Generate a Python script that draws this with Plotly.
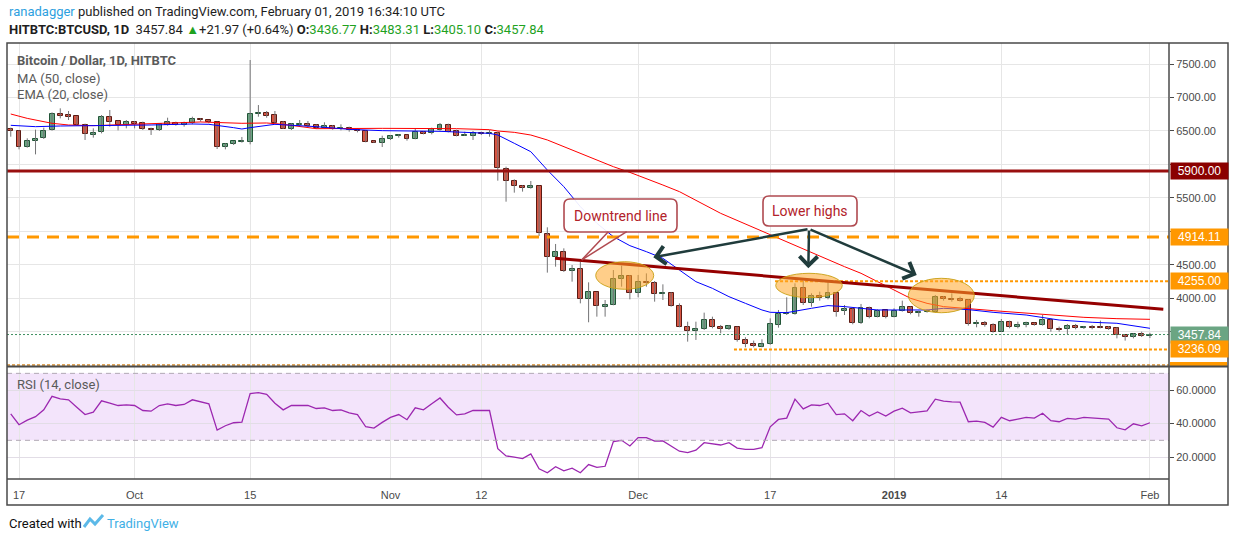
import pandas as pd
import plotly.graph_objects as go

# daily candles, HITBTC BTCUSD
dates = pd.date_range("2018-09-16", "2019-02-01", freq="D")

opens = [6524, 6494, 6255, 6345, 6390, 6509, 6758, 6733, 6718, 6594, 6445, 6479, 6703, 6643, 6589,
         6629, 6614, 6529, 6509, 6594, 6624, 6589, 6614, 6678, 6659, 6629, 6255, 6300, 6330, 6340,
         6748, 6763, 6733, 6629, 6534, 6589, 6604, 6584, 6549, 6569, 6529, 6539, 6519, 6499, 6345, 6325,
         6375, 6420, 6434, 6385, 6479, 6464, 6519, 6584, 6494, 6429, 6429, 6469, 6449, 6464, 5926,
         5747, 5672, 5642, 5672, 4955, 4612, 4686, 4403, 4433, 3984, 4089, 3874, 3900, 4283, 4333,
         4074, 4243, 4223, 4059, 4074, 3885, 3566, 3506, 3541, 3675, 3566, 3536, 3566, 3377, 3317,
         3277, 3312, 3606, 3760, 3760, 4148, 3924, 4034, 3999, 4074, 3815, 3840, 3636, 3860, 3725, 3820,
         3725, 3815, 3865, 3775, 3790, 3800, 4014, 3994, 3989, 3974, 3611, 3631, 3596, 3501, 3641,
         3566, 3596, 3631, 3596, 3675, 3541, 3536, 3586, 3551, 3576, 3576, 3576, 3551, 3446, 3416,
         3461, 3436.77]
highs = [6549, 6509, 6390, 6519, 6549, 6778, 6838, 6798, 6720, 6609, 6539, 6738, 6813, 6653, 6663,
         6648, 6639, 6549, 6614, 6698, 6639, 6639, 6713, 6688, 6663, 6639, 6315, 6350, 6410, 7560,
         6887, 6798, 6798, 6649, 6614, 6663, 6648, 6599, 6629, 6589, 6599, 6564, 6539, 6505, 6355, 6429,
         6439, 6449, 6444, 6539, 6499, 6549, 6619, 6609, 6519, 6489, 6499, 6489, 6514, 6489, 5966,
         5777, 5687, 5752, 5682, 5060, 4811, 4746, 4497, 4547, 4238, 4095, 3974, 4422, 4487, 4348,
         4348, 4372, 4258, 4208, 4089, 3924, 3650, 3650, 3785, 3725, 3601, 3601, 3576, 3417, 3367,
         3387, 3700, 3825, 4014, 4223, 4258, 4074, 4099, 4248, 4080, 3899, 3850, 3915, 3875, 3835, 3825,
         3850, 3964, 3875, 3815, 3835, 4049, 4034, 4074, 4024, 3984, 3676, 3660, 3626, 3690,
         3665, 3650, 3650, 3636, 3750, 3700, 3576, 3616, 3616, 3586, 3601, 3666, 3586, 3566, 3451,
         3476, 3501, 3483.31]
lows = [6414, 6225, 6250, 6150, 6380, 6504, 6688, 6663, 6579, 6365, 6400, 6464, 6564, 6509, 6539,
        6539, 6514, 6440, 6499, 6579, 6579, 6564, 6599, 6639, 6614, 6230, 6225, 6290, 6325, 6300,
        6713, 6698, 6614, 6529, 6514, 6579, 6559, 6529, 6539, 6519, 6509, 6489, 6479, 6330, 6320, 6260,
        6365, 6400, 6355, 6375, 6449, 6449, 6504, 6479, 6419, 6425, 6365, 6439, 6414, 5757, 5443,
        5578, 5593, 5637, 4930, 4383, 4472, 4393, 4248, 3924, 3641, 3725, 3725, 3895, 4173, 3984,
        4014, 4173, 3949, 3974, 3874, 3566, 3352, 3377, 3526, 3551, 3476, 3526, 3352, 3267, 3267,
        3267, 3305, 3561, 3750, 3755, 3899, 3874, 3964, 3984, 3725, 3750, 3611, 3616, 3700, 3715, 3700,
        3715, 3800, 3760, 3725, 3785, 3785, 3964, 3949, 3949, 3591, 3566, 3576, 3486, 3496,
        3551, 3551, 3566, 3591, 3591, 3501, 3501, 3466, 3536, 3541, 3536, 3551, 3526, 3401, 3367,
        3401, 3421, 3405.10]
closes = [6494, 6255, 6345, 6385, 6499, 6758, 6728, 6713, 6589, 6449, 6469, 6703, 6638, 6594, 6629,
          6599, 6529, 6509, 6599, 6629, 6594, 6624, 6673, 6659, 6629, 6255, 6305, 6345, 6350, 6748,
          6768, 6728, 6624, 6534, 6599, 6604, 6579, 6544, 6569, 6534, 6544, 6509, 6494, 6340, 6325, 6380,
          6424, 6439, 6385, 6484, 6459, 6529, 6584, 6489, 6429, 6439, 6469, 6449, 6469, 5941, 5747,
          5672, 5642, 5672, 4970, 4622, 4686, 4403, 4433, 3989, 4089, 3885, 3900, 4283, 4333, 4074,
          4238, 4223, 4059, 4079, 3885, 3571, 3506, 3541, 3670, 3566, 3536, 3581, 3372, 3312, 3292,
          3317, 3611, 3765, 3775, 4148, 3924, 4034, 3999, 4079, 3800, 3840, 3636, 3860, 3715, 3810, 3715,
          3815, 3865, 3775, 3800, 3815, 4014, 3984, 3974, 3964, 3611, 3631, 3596, 3501, 3641,
          3566, 3601, 3626, 3601, 3675, 3536, 3526, 3586, 3551, 3576, 3556, 3561, 3541, 3446, 3416,
          3461, 3431, 3457.84]

rsi_values = [45.8, 39.3, 42.1, 44.1, 48.2, 56.3, 54.8, 54.2, 49.8, 45.4, 46.8, 53.6, 52.2, 50.8, 51.2,
              50.8, 47.8, 47.4, 50.8, 51.8, 50.8, 51.4, 54.2, 53.2, 51.8, 36.1, 38.7, 40.5, 40.9, 57.9,
              58.5, 57.5, 52.2, 48.2, 50.8, 50.8, 50.8, 49.0, 49.4, 47.8, 48.2, 46.4, 45.4, 38.1, 37.3, 40.7,
              43.7, 45.4, 42.3, 49.4, 48.2, 51.8, 55.3, 49.8, 45.2, 45.8, 47.8, 47.8, 47.8, 25.0, 20.7,
              19.9, 19.1, 21.9, 13.0, 10.6, 14.2, 11.8, 13.4, 10.6, 15.5, 13.8, 14.5, 29.2, 30.0, 26.6,
              31.6, 31.6, 29.6, 29.6, 26.8, 23.5, 22.7, 24.1, 28.6, 27.8, 27.2, 28.6, 25.4, 24.6, 24.6,
              25.6, 38.1, 42.5, 43.3, 54.6, 48.8, 51.2, 50.8, 52.2, 45.4, 45.8, 41.7, 47.8, 44.5, 47.0, 44.5,
              47.4, 49.2, 46.4, 47.0, 47.6, 54.6, 53.4, 53.0, 52.8, 41.1, 41.5, 40.7, 37.9, 43.7,
              41.7, 42.7, 43.7, 43.3, 46.2, 41.7, 41.1, 43.1, 42.7, 43.7, 43.3, 43.3, 42.7, 37.5, 36.3,
              39.9, 38.7, 40.5]

# moving averages read at sample points along the drawn lines
ema20_dates = ["2018-09-16", "2018-09-19", "2018-09-22", "2018-09-27", "2018-10-03", "2018-10-08",
               "2018-10-10", "2018-10-13", "2018-10-14", "2018-10-15", "2018-10-17", "2018-10-18",
               "2018-10-23", "2018-10-27", "2018-10-31", "2018-11-07", "2018-11-13", "2018-11-14",
               "2018-11-16", "2018-11-18", "2018-11-20", "2018-11-22", "2018-11-24", "2018-11-26",
               "2018-11-28", "2018-11-30", "2018-12-02", "2018-12-04", "2018-12-06", "2018-12-08",
               "2018-12-10", "2018-12-12", "2018-12-14", "2018-12-16", "2018-12-17", "2018-12-19",
               "2018-12-22", "2018-12-24", "2018-12-26", "2018-12-30", "2019-01-05", "2019-01-07",
               "2019-01-10", "2019-01-13", "2019-01-17", "2019-01-21", "2019-01-25", "2019-01-28",
               "2019-02-01"]
ema20_values = [6584, 6564, 6574, 6579, 6589, 6604, 6599, 6549, 6529, 6549, 6589, 6599, 6564, 6524,
                6504, 6494, 6464, 6439, 6315, 6190, 5916, 5667, 5369, 5120, 4920, 4786, 4696, 4597,
                4422, 4248, 4148, 4024, 3924, 3825, 3790, 3785, 3850, 3890, 3875, 3825, 3825, 3850,
                3830, 3790, 3750, 3675, 3641, 3626, 3551]

ma50_dates = ["2018-09-16", "2018-09-18", "2018-09-21", "2018-09-23", "2018-09-26", "2018-10-02",
              "2018-10-05", "2018-10-09", "2018-10-14", "2018-10-17", "2018-10-19", "2018-10-23",
              "2018-10-31", "2018-11-09", "2018-11-13", "2018-11-14", "2018-11-16", "2018-11-18",
              "2018-11-20", "2018-11-22", "2018-11-24", "2018-11-26", "2018-11-28", "2018-11-30",
              "2018-12-02", "2018-12-04", "2018-12-06", "2018-12-08", "2018-12-11", "2018-12-17",
              "2018-12-24", "2018-12-26", "2018-12-28", "2018-12-30", "2019-01-01", "2019-01-03",
              "2019-01-05", "2019-01-07", "2019-01-13", "2019-01-20", "2019-01-24", "2019-01-28",
              "2019-02-01"]
ma50_values = [6753, 6688, 6614, 6589, 6579, 6604, 6619, 6634, 6614, 6619, 6599, 6534, 6539, 6534,
               6519, 6499, 6479, 6439, 6365, 6265, 6165, 6056, 5966, 5881, 5792, 5692, 5593, 5468,
               5269, 4950, 4571, 4472, 4373, 4248, 4124, 3999, 3924, 3875, 3815, 3750, 3715, 3695,
               3685]

xtick_dates = ["2018-09-17", "2018-10-01", "2018-10-15", "2018-11-01", "2018-11-12", "2018-12-01",
               "2018-12-17", "2019-01-01", "2019-01-14", "2019-02-01"]
xtick_text = ["17", "Oct", "15", "Nov", "12", "Dec", "17", "<b>2019</b>", "14", "Feb"]

price_ticks = [3500, 4000, 4500, 5000, 5500, 6000, 6500, 7000, 7500]
hidden_ticks = [3500, 5000, 6000]  # covered by the level labels on the axis
rsi_ticks = [20, 40, 60]

# pixel frame of the plotting area
L, R, T, B = 7, 1169, 43, 479


def px(x):
    return (x - L) / (R - L)


def py(y):
    return (B - y) / (B - T)


def rounded_box(x0, y0, x1, y1, r=6):
    pts = [("M", x0 + r, y0), ("L", x1 - r, y0), ("Q", x1, y0, x1, y0 + r), ("L", x1, y1 - r),
           ("Q", x1, y1, x1 - r, y1), ("L", x0 + r, y1), ("Q", x0, y1, x0, y1 - r),
           ("L", x0, y0 + r), ("Q", x0, y0, x0 + r, y0)]
    out = []
    for p in pts:
        cmd, vals = p[0], p[1:]
        coords = ["%.5f,%.5f" % (px(vals[i]), py(vals[i + 1])) for i in range(0, len(vals), 2)]
        out.append(cmd + " " + " ".join(coords))
    return " ".join(out) + " Z"


UP, UP_EDGE = "#6ba583", "#225437"
DN, DN_EDGE = "#d75442", "#5b1a13"
AXIS = "#4a4a4a"
FONT = "Roboto, sans-serif"
TICKFONT = dict(family="Liberation Sans, Arial", size=11, color="#4a4a4a")
CALLOUT = "#b04a50"

fig = go.Figure()

# wicks
wx, wy = [], []
for d, h, l in zip(dates, highs, lows):
    wx += [d, d, None]
    wy += [l, h, None]
fig.add_trace(go.Scatter(x=wx, y=wy, mode="lines", line=dict(color="#737375", width=1),
                         hoverinfo="skip", yaxis="y"))

# candle bodies
up = [c >= o for o, c in zip(opens, closes)]
fig.add_trace(go.Bar(
    x=dates,
    y=[max(abs(c - o), 6) for o, c in zip(opens, closes)],
    base=[min(o, c) for o, c in zip(opens, closes)],
    width=0.6 * 86400000,
    marker=dict(color=[UP if u else DN for u in up],
                line=dict(color=[UP_EDGE if u else DN_EDGE for u in up], width=1)),
    yaxis="y",
))

fig.add_trace(go.Scatter(x=ma50_dates, y=ma50_values, mode="lines",
                         line=dict(color="#ff0000", width=1), yaxis="y"))
fig.add_trace(go.Scatter(x=ema20_dates, y=ema20_values, mode="lines",
                         line=dict(color="#0000ff", width=1), yaxis="y"))

fig.add_trace(go.Scatter(x=dates, y=rsi_values, mode="lines",
                         line=dict(color="#9c27b0", width=1.3), yaxis="y2"))

x_start, x_end = "2018-09-15 13:05", "2019-02-03 07:25"

shapes = [
    # RSI band and bounds
    dict(type="rect", xref="paper", yref="y2", x0=0, x1=1, y0=30, y1=70,
         fillcolor="#f3e4fb", line=dict(width=0), layer="below"),
    dict(type="line", xref="paper", yref="y2", x0=0, x1=1, y0=70, y1=70,
         line=dict(color="#b0a8b4", width=1, dash="5px,4px")),
    dict(type="line", xref="paper", yref="y2", x0=0, x1=1, y0=30, y1=30,
         line=dict(color="#b0a8b4", width=1, dash="5px,4px")),
    # horizontal levels
    dict(type="line", xref="paper", yref="y", x0=0, x1=1, y0=5900, y1=5900,
         line=dict(color="#990f0f", width=3)),
    dict(type="line", xref="paper", yref="y", x0=0, x1=1, y0=4914.11, y1=4914.11,
         line=dict(color="#ff9800", width=3, dash="12px,8px")),
    dict(type="line", xref="x", yref="y", x0="2018-12-17 14:00", x1=x_end, y0=4255, y1=4255,
         line=dict(color="#ff9800", width=2, dash="3px,2px")),
    dict(type="line", xref="x", yref="y", x0="2018-12-12 14:40", x1=x_end, y0=3236.09, y1=3236.09,
         line=dict(color="#ff9800", width=2, dash="3px,2px")),
    dict(type="line", xref="paper", yref="y", x0=0, x1=1, y0=3457.84, y1=3457.84,
         line=dict(color="#3d8f5f", width=1, dash="2px,2px")),
    dict(type="line", xref="paper", yref="y", x0=0, x1=1, y0=3003, y1=3003,
         line=dict(color="#e0a860", width=2, dash="3px,2px")),
    # downtrend line
    dict(type="line", xref="x", yref="y", x0="2018-11-20 22:20", x1="2019-02-02 14:50",
         y0=4597, y1=3835, line=dict(color="#950000", width=3)),
    # highlighted highs
    dict(type="circle", xref="x", yref="y", x0="2018-11-25 20:40", x1="2018-12-02 21:20",
         y0=4134, y1=4546, fillcolor="rgba(255,166,40,0.55)",
         line=dict(color="rgba(200,160,20,0.9)", width=1)),
    dict(type="circle", xref="x", yref="y", x0="2018-12-17 16:00", x1="2018-12-25 17:30",
         y0=4009, y1=4373, fillcolor="rgba(255,166,40,0.55)",
         line=dict(color="rgba(200,160,20,0.9)", width=1)),
    dict(type="circle", xref="x", yref="y", x0="2019-01-02 17:30", x1="2019-01-10 17:20",
         y0=3784, y1=4298, fillcolor="rgba(255,166,40,0.55)",
         line=dict(color="rgba(200,160,20,0.9)", width=1)),
    # callout boxes
    dict(type="path", xref="paper", yref="paper", path=rounded_box(564, 199, 677, 232),
         fillcolor="rgba(255,255,255,0.92)", line=dict(color=CALLOUT, width=1.6)),
    dict(type="path", xref="paper", yref="paper", path=rounded_box(763, 196, 857, 226),
         fillcolor="rgba(255,255,255,0.92)", line=dict(color=CALLOUT, width=1.6)),
    # callout tail
    dict(type="line", xref="x", yref="y", x0="2018-11-27 09:20", y0=4995,
         x1="2018-11-24 03:50", y1=4572, line=dict(color=CALLOUT, width=1.5)),
    dict(type="line", xref="x", yref="y", x0="2018-11-29 14:50", y0=4995,
         x1="2018-11-24 03:50", y1=4572, line=dict(color=CALLOUT, width=1.5)),
    # bottom level label (clipped by the pane)
    dict(type="rect", xref="paper", yref="y", x0=px(1170), x1=px(1227), y0=2988, y1=3048,
         fillcolor="#ff9800", line=dict(width=0)),
    # frame
    dict(type="rect", xref="paper", yref="paper", x0=0, x1=px(1228), y0=py(505), y1=1,
         line=dict(color=AXIS, width=1.5)),
    dict(type="line", xref="paper", yref="paper", x0=1, x1=1, y0=py(505), y1=1,
         line=dict(color=AXIS, width=1.5)),
    dict(type="line", xref="paper", yref="paper", x0=0, x1=px(1228), y0=py(366.5), y1=py(366.5),
         line=dict(color=AXIS, width=2)),
    dict(type="line", xref="paper", yref="paper", x0=0, x1=1, y0=0, y1=0,
         line=dict(color=AXIS, width=1.5)),
    # TradingView logo
    dict(type="path", xref="paper", yref="paper",
         path=f"M {px(84)},{py(527)} L {px(90)},{py(519)} L {px(95)},{py(524)} L {px(103)},{py(515)}",
         line=dict(color="#5cb9e8", width=3)),
]

annotations = []


def add_text(x, y, text, size=13, color="#1e1e1e", family=FONT, anchor="left", **kw):
    annotations.append(dict(xref="paper", yref="paper", x=px(x), y=py(y), text=text,
                            showarrow=False, xanchor=anchor, yanchor="middle",
                            font=dict(family=family, size=size, color=color), **kw))


green = "#1fa21f"
add_text(7, 12, "<span style='color:#2e9fe0'>ranadagger</span> published on TradingView.com, "
                "February 01, 2019 16:34:10 UTC", size=13)
add_text(7, 29, "<b>HITBTC:BTCUSD, 1D</b>  3457.84 <span style='color:%s'>▲</span>+21.97 (+0.64%%) "
                "<b>O:</b><span style='color:%s'>3436.77</span> <b>H:</b><span style='color:%s'>3483.31</span> "
                "<b>L:</b><span style='color:%s'>3405.10</span> <b>C:</b><span style='color:%s'>3457.84</span>"
         % (green, green, green, green, green), size=13)
add_text(15, 60, "<b>Bitcoin / Dollar, 1D, HITBTC</b>", size=13, color="#5a5a5a")
add_text(15, 78, "MA (50, close)", size=13, color="#5a5a5a")
add_text(15, 95, "EMA (20, close)", size=13, color="#5a5a5a")
add_text(15, 384, "RSI (14, close)", size=13, color="#5a5a5a")
add_text(7, 523, "Created with", size=13, color="#111111")
add_text(105, 523, "TradingView", size=13, color="#3fb0e6")
add_text(620.5, 215.5, "Downtrend line", size=14, color="#b2222a", anchor="center")
add_text(810, 211, "Lower highs", size=14, color="#b2222a", anchor="center")

# price level labels on the axis
for val, txt, bg in [(5900, "5900.00", "#8b0000"), (4914.11, "4914.11", "#ff9800"),
                     (4255, "4255.00", "#ff9800"), (3457.84, "3457.84", "#6ba583"),
                     (3236.09, "3236.09", "#ff9800")]:
    annotations.append(dict(xref="paper", yref="y", x=px(1170), y=val, text=txt, showarrow=False,
                            xanchor="left", yanchor="middle", bgcolor=bg, width=55, height=14,
                            borderpad=1, align="center",
                            font=dict(family="Liberation Sans, Arial", size=12, color="white")))

# arrows from the "Lower highs" callout
for tx, ty in [("2018-12-02 20:10", 4612), ("2018-12-21 14:50", 4448), ("2019-01-03 18:00", 4348)]:
    annotations.append(dict(xref="x", yref="y", x=tx, y=ty, axref="x", ayref="y",
                            ax="2018-12-21 16:50", ay=5035, text="", showarrow=True,
                            arrowhead=4, arrowsize=1.4, arrowwidth=2.5, arrowcolor="#203c3c",
                            standoff=0))

fig.update_layout(
    width=1234, height=541,
    margin=dict(l=L, r=1234 - R, t=T, b=541 - B),
    paper_bgcolor="white", plot_bgcolor="white",
    showlegend=False, bargap=0,
    shapes=shapes, annotations=annotations,
    xaxis=dict(type="date", range=[x_start, x_end], anchor="y2",
               tickvals=xtick_dates, ticktext=xtick_text,
               ticks="outside", ticklen=6, tickcolor="rgba(0,0,0,0)",
               showgrid=True, gridcolor="#e6e6e6", gridwidth=1,
               zeroline=False, showline=False, tickfont=TICKFONT),
    yaxis=dict(domain=[0.2592, 1], range=[2988, 7814], anchor="x", side="right",
               tickvals=price_ticks,
               ticktext=["" if v in hidden_ticks else "%.2f" % v for v in price_ticks],
               ticks="outside", ticklen=4,
               tickcolor=AXIS, showgrid=True, gridcolor="#e6e6e6",
               zeroline=False, showline=False, tickfont=TICKFONT),
    yaxis2=dict(domain=[0, 0.2569], range=[6.9, 73.8], anchor="x", side="right",
                tickvals=rsi_ticks, ticktext=["%.4f" % v for v in rsi_ticks],
                ticks="outside", ticklen=4, tickcolor=AXIS, showgrid=True,
                gridcolor="#e2dde6", zeroline=False, showline=False, tickfont=TICKFONT),
)

# the page's default body margin would shift the chart off the window origin
fig.write_html("out.html", config={"displayModeBar": False},
               post_script="document.body.style.margin = '0';")
